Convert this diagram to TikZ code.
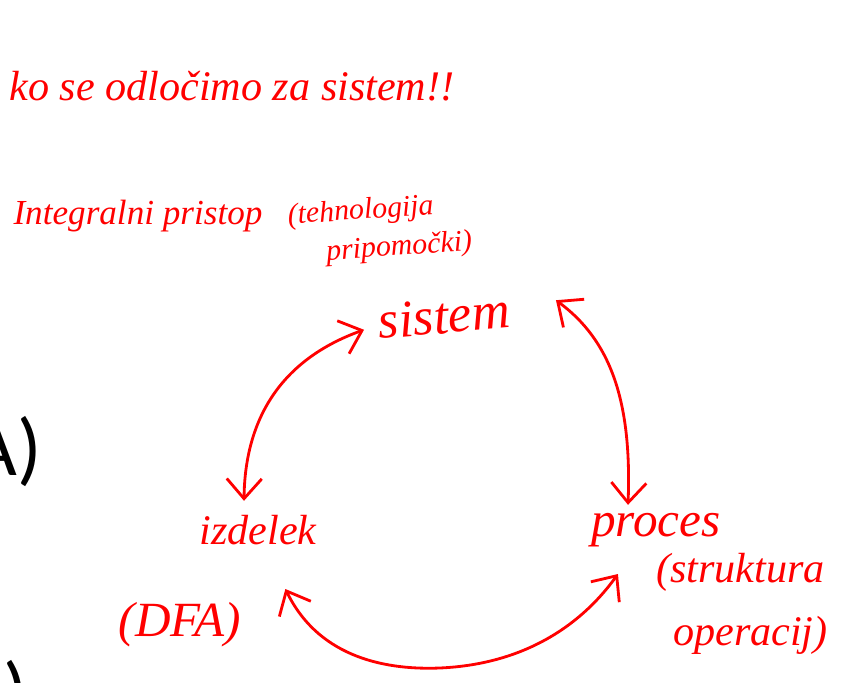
\documentclass[tikz,border=0pt]{standalone}
\usepackage{fontspec}
\setmainfont{Liberation Serif}
\newfontfamily\slidefont{Carlito}
\usetikzlibrary{arrows.meta,calc}

\definecolor{ink}{RGB}{255,0,0}
\tikzset{
	hand/.style = {text = ink, font = \itshape, inner sep = 0pt},
	pen/.style = {draw = ink, line width = 1.6pt, line cap = round,
		arrows = {Straight Barb[length = 4mm, width = 7mm]-Straight Barb[length = 4mm, width = 7mm]}},
}

\begin{document}
\begin{tikzpicture}[x = 0.02cm, y = -0.02cm]

	\useasboundingbox (0, 0) rectangle (860, 683);
	\clip (0, 0) rectangle (860, 683);

		% slide text behind the notes
		\node[anchor = east, font = \slidefont\fontsize{46}{50}\selectfont, inner sep = 0pt] (lblA) at (42, 452) {A)};
		\node[anchor = north east, font = \slidefont\fontsize{46}{50}\selectfont, inner sep = 0pt] (lblU) at (28, 660) {U)};

		% handwritten notes
		\node[hand, font = \itshape\fontsize{24}{28}\selectfont] (title) at (232, 86) {ko se odločimo za sistem!!};
		\node[hand, font = \itshape\fontsize{20}{24}\selectfont] (integral) at (138, 216) {Integralni pristop};
		\node[hand, font = \itshape\fontsize{17}{26}\selectfont, align = left, rotate = 4] (tehno) at (380, 230) {(tehnologija\\[-4pt] \hspace{1.2em}pripomočki)};

		\node[hand, font = \itshape\fontsize{30}{34}\selectfont, rotate = 5] (sistem) at (444, 316) {sistem};
		\node[hand, font = \itshape\fontsize{24}{28}\selectfont] (izdelek) at (258, 530) {izdelek};
		\node[hand, font = \itshape\fontsize{28}{32}\selectfont] (dfa) at (180, 625) {(DFA)};
		\node[hand, font = \itshape\fontsize{28}{32}\selectfont] (proces) at (656, 530) {proces};
		\node[hand, font = \itshape\fontsize{24}{36}\selectfont, align = left] (struktura) at (742, 604) {(struktura\\ \hspace{0.4em}operacij)};

		% connectors
		\draw[pen] ($(sistem.west) + (-14, 8)$) .. controls (280, 360) and (245, 420) .. ($(izdelek.north) + (-14, -14)$);
		\draw[pen] ($(sistem.east) + (46, -10)$) .. controls (610, 340) and (632, 400) .. ($(proces.north) + (-28, -8)$);
		\draw[pen] ($(dfa.east) + (44, -36)$) .. controls (320, 660) and (390, 670) .. (440, 668)
			.. controls (530, 664) and (585, 620) .. ($(struktura.west) + (-38, -30)$);

\end{tikzpicture}
\end{document}
